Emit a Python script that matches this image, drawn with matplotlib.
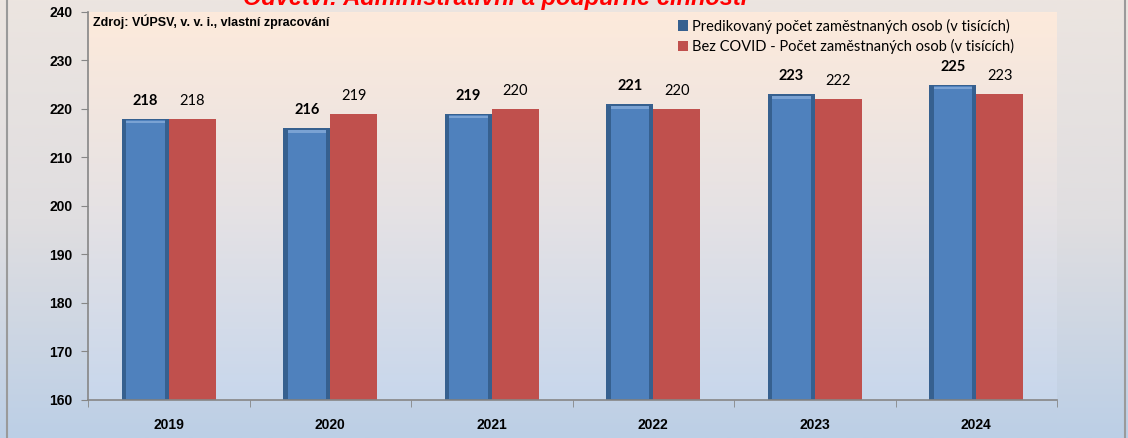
import numpy as np
import matplotlib.pyplot as plt
from matplotlib.colors import LinearSegmentedColormap
from matplotlib.patches import Rectangle

# Data
years = ['2019', '2020', '2021', '2022', '2023', '2024']
predicted = [218, 216, 219, 221, 223, 225]
no_covid = [218, 219, 220, 220, 222, 223]
label_pred = 'Predikovaný počet zaměstnaných osob (v tisících)'
label_nocovid = 'Bez COVID - Počet zaměstnaných osob (v tisících)'
title = 'Odvětví: Administrativní a podpůrné činnosti'
source = 'Zdroj: VÚPSV, v. v. i., vlastní zpracování'

fig = plt.figure(figsize=(11.28, 4.38), dpi=100)

# figure background gradient
bg = fig.add_axes([0, 0, 1, 1], zorder=-10)
cmap_bg = LinearSegmentedColormap.from_list('bg', ['#ECE5E0', '#E0DEE0', '#BCCFE6'])
bg.imshow(np.linspace(0, 1, 256).reshape(-1, 1), cmap=cmap_bg, aspect='auto',
          extent=[0, 1, 0, 1], origin='upper')
bg.set_axis_off()
fig.patches.append(Rectangle((7 / 1128, -0.05), 1118 / 1128, 1.2, transform=fig.transFigure,
                             fill=False, edgecolor='#9A9A9A', linewidth=1.5))

ax = fig.add_axes([88 / 1128, 1 - 400 / 438, (1057 - 88) / 1128, (400 - 12) / 438])
x = np.arange(len(years))
w = 0.29

ax.set_xlim(-0.5, len(years) - 0.5)
ax.set_ylim(160, 240)

# plot area gradient
cmap_pa = LinearSegmentedColormap.from_list('pa', ['#FDEADB', '#E6E2E4', '#C8D7EC'])
ax.imshow(np.linspace(0, 1, 256).reshape(-1, 1), cmap=cmap_pa, aspect='auto',
          extent=[-0.5, len(years) - 0.5, 160, 240], origin='upper', zorder=0)

# blue bars with darker rim for the bevel look
ax.bar(x - w / 2, np.array(predicted) - 160, w, bottom=160, color='#36608F', zorder=2,
       label=label_pred)
ax.bar(x - w / 2, np.array(predicted) - 160.6, w * 0.82, bottom=160.3, color='#4F81BD', zorder=3)
ax.bar(x - w / 2, [0.5] * len(years), w * 0.82, bottom=np.array(predicted) - 0.9,
       color='#7AA2D3', zorder=4)
ax.bar(x + w / 2, np.array(no_covid) - 160, w, bottom=160, color='#C0504D', zorder=2,
       label=label_nocovid)

for xi, v in zip(x, predicted):
    ax.annotate(str(v), (xi - w / 2, v), xytext=(0, 8), textcoords='offset points',
                ha='center', va='bottom', fontsize=10.5, fontweight='bold',
                family='Lato', zorder=5)
for xi, v in zip(x, no_covid):
    ax.annotate(str(v), (xi + w / 2, v), xytext=(0, 8), textcoords='offset points',
                ha='center', va='bottom', fontsize=10.5, family='Lato', zorder=5)

ax.set_yticks(range(160, 241, 10))
ax.set_yticklabels([str(t) for t in range(160, 241, 10)], fontsize=10, fontweight='bold',
                   family='Liberation Sans')
ax.set_xticks(x)
ax.set_xticklabels(years, fontsize=10, fontweight='bold', family='Liberation Sans')
ax.set_xticks(np.arange(-0.5, len(years)), minor=True)
ax.tick_params(axis='x', which='major', length=0, pad=13)
ax.tick_params(axis='x', which='minor', length=5, color='#868686', direction='out')
ax.tick_params(axis='y', length=5, color='#868686', direction='out', pad=6)
for s in ['top', 'right']:
    ax.spines[s].set_visible(False)
for s in ['left', 'bottom']:
    ax.spines[s].set_color('#868686')
    ax.spines[s].set_linewidth(1.2)

ax.text(0.005, 0.975, source, transform=ax.transAxes, ha='left', va='center',
        fontsize=9, fontweight='bold', family='Liberation Sans')

leg = ax.legend(loc='upper left', bbox_to_anchor=(0.595, 1.017), frameon=False,
                handlelength=0.7, handleheight=0.7, handletextpad=0.3,
                labelspacing=0.4, prop={'family': 'Lato', 'size': 10.5})

fig.text(495 / 1128, 1 - 5 / 438, title, ha='center', va='baseline', fontsize=17,
         fontweight='bold', fontstyle='italic', color='#FF0000', family='Liberation Sans')

fig.savefig('out.png', dpi=100)
